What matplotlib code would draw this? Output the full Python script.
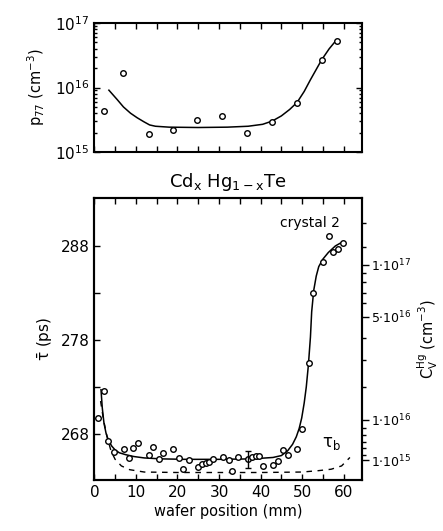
import numpy as np
import matplotlib
matplotlib.use("Agg")
import matplotlib.pyplot as plt

plt.rcParams['font.family'] = ['DejaVu Sans']
plt.rcParams['mathtext.default'] = 'regular'

# top panel: p77 measurements and fit
p_pos = [2.2, 7.0, 13.1, 19.0, 24.8, 30.8, 36.8, 42.8, 48.8, 54.7, 58.3]
p_val = [4.3e15, 1.66e16, 1.9e15, 2.2e15, 3.1e15, 3.6e15, 2.0e15, 2.9e15, 5.7e15, 2.7e16, 5.3e16]
p_fit_pos = [3.5, 5.5, 7, 8.7, 10.3, 11.9, 13.3, 14.7, 18, 25, 32, 37, 40.5, 42.8,
             45, 47, 48.8, 50.5, 52, 53.4, 54.7, 56.5, 58.3]
p_fit_val = [9.1e15, 6.5e15, 5.0e15, 4.0e15, 3.4e15, 2.95e15, 2.63e15, 2.51e15, 2.43e15,
             2.40e15, 2.43e15, 2.51e15, 2.69e15, 3.02e15, 3.63e15, 4.57e15, 5.89e15,
             8.7e15, 1.32e16, 1.91e16, 2.69e16, 3.98e16, 5.5e16]

# bottom panel: mean lifetime
tau_pos = [0.9, 2.24, 3.2, 4.65, 7.06, 8.27, 9.23, 10.53, 13.08, 14.14, 15.49, 16.55,
           18.96, 20.31, 21.37, 22.72, 24.94, 26.0, 26.75, 27.54, 28.67, 31.0, 32.29,
           33.18, 34.63, 36.94, 38.0, 38.8, 39.59, 40.65, 43.01, 44.17, 45.42, 46.58,
           48.8, 50.05, 51.57, 52.65, 55.06, 56.39, 57.52, 58.67, 59.88]
tau_val = [269.73, 272.61, 267.29, 266.05, 266.40, 265.48, 266.54, 267.01, 265.77,
           266.65, 265.34, 266.01, 266.37, 265.48, 264.24, 265.23, 264.46, 264.76,
           264.86, 265.07, 265.32, 265.55, 265.18, 264.06, 265.52, 265.31, 265.59,
           265.66, 265.69, 264.63, 264.70, 265.16, 266.26, 265.77, 266.38, 268.53,
           275.55, 282.97, 286.33, 289.03, 287.36, 287.65, 288.32]
err_pos = 36.94
err_val = 265.31
err_size = 0.93

tau_fit_pos = [1.6, 1.9, 2.3, 2.8, 3.4, 4.2, 5.0, 6.0, 7.5, 9.5, 12, 16, 22, 30, 38, 43,
               45, 46.5, 47.7, 48.6, 49.3, 49.9, 50.5, 51.0, 51.5, 52.0, 52.3, 52.8,
               53.4, 54.0, 55.0, 56.3, 58.0, 60.0]
tau_fit_val = [272.7, 270.8, 269.2, 268.1, 267.3, 266.7, 266.3, 266.0, 265.8, 265.6,
               265.45, 265.35, 265.3, 265.3, 265.35, 265.5, 265.7, 266.2, 266.9, 267.7,
               268.6, 269.7, 271.3, 273.0, 275.3, 278.3, 281.0, 283.3, 284.8, 285.8,
               286.6, 287.3, 288.0, 288.5]

taub_pos = [1.5, 2.2, 3.0, 4.0, 5.0, 6.5, 8.5, 12, 20, 30, 40, 50, 54, 57, 59.5, 61.5]
taub_val = [271.5, 269.5, 267.8, 266.2, 265.3, 264.6, 264.2, 263.95, 263.9, 263.9,
            263.9, 263.95, 264.1, 264.25, 264.6, 265.5]

# right axis: vacancy concentration labels (placed on the tau scale)
cv_label_tau = [285.98, 280.45, 269.49, 265.23]
cv_labels = [r'1$\cdot$10$^{17}$', r'5$\cdot$10$^{16}$', r'1$\cdot$10$^{16}$', r'1$\cdot$10$^{15}$']
cv_minor_tau = [290.48, 287.93, 285.13, 284.17, 283.0, 281.94, 278.21, 275.87, 273.0,
                268.64, 267.89, 267.15, 266.51, 265.77]

fig = plt.figure(figsize=(4.43, 5.31), dpi=100)

ax1 = fig.add_axes([0.213, 0.7137, 0.605, 0.2429])
ax1.set_yscale('log')
ax1.plot(p_fit_pos, p_fit_val, color='black', lw=1.1)
ax1.plot(p_pos, p_val, 'o', mfc='white', mec='black', ms=4, mew=1)
ax1.set_xlim(0, 64.5)
ax1.set_ylim(1e15, 1e17)
ax1.set_xticks(np.arange(0, 65, 5))
ax1.set_xticklabels([])
ax1.set_yticks([1e15, 1e16, 1e17])
ax1.set_yticklabels([r'10$^{15}$', r'10$^{16}$', r'10$^{17}$'], fontsize=11)
ax1.tick_params(which='both', direction='in', top=True, right=True, width=1)
ax1.tick_params(which='major', length=4)
ax1.tick_params(which='minor', length=2.5)
ax1.set_ylabel(r'p$_{77}$ (cm$^{-3}$)', fontsize=10.5, labelpad=6)
for s in ax1.spines.values():
    s.set_linewidth(1.5)

fig.text(0.515, 0.648, r'Cd$_x$ Hg$_{1-x}$Te', fontsize=13, ha='center', va='baseline')

ax2 = fig.add_axes([0.213, 0.096, 0.605, 0.5311])
ax2.plot(tau_fit_pos, tau_fit_val, color='black', lw=1.1)
ax2.plot(taub_pos, taub_val, color='black', lw=1.0, ls=(0, (4, 4)))
ax2.plot(tau_pos, tau_val, 'o', mfc='white', mec='black', ms=4, mew=1)
ax2.errorbar([err_pos], [err_val], yerr=[err_size], fmt='none', ecolor='black',
             elinewidth=1, capsize=2.5)
ax2.set_xlim(0, 64.5)
ax2.set_ylim(263.1, 293.1)
ax2.set_xticks(np.arange(0, 61, 10))
ax2.set_xticks(np.arange(5, 65, 10), minor=True)
ax2.set_yticks([268, 278, 288])
ax2.set_yticks([273, 283], minor=True)
ax2.tick_params(which='both', direction='in', top=True, labelsize=11, width=1)
ax2.tick_params(which='major', length=4)
ax2.tick_params(which='minor', length=4)
ax2.set_xlabel('wafer position (mm)', fontsize=10.5, labelpad=3)
ax2.set_ylabel(r'$\bar{\tau}$ (ps)', fontsize=11, labelpad=4)
for s in ax2.spines.values():
    s.set_linewidth(1.5)

ax3 = ax2.twinx()
ax3.set_ylim(263.1, 293.1)
ax3.set_yticks(cv_label_tau)
ax3.set_yticklabels(cv_labels, fontsize=9)
ax3.set_yticks(cv_minor_tau, minor=True)
ax3.tick_params(which='both', direction='out', width=1, pad=1)
ax3.tick_params(which='major', length=5)
ax3.tick_params(which='minor', length=3)
ax3.set_ylabel(r'C$_V^{Hg}$ (cm$^{-3}$)', fontsize=10.5, rotation=90, labelpad=3)
for s in ax3.spines.values():
    s.set_linewidth(1.5)

ax2.text(52, 290.4, 'crystal 2', fontsize=10, ha='center', va='center')
ax2.text(54.9, 267.0, r'$\tau_b$', fontsize=12, ha='left', va='center')

fig.savefig('out.png', dpi=100)
